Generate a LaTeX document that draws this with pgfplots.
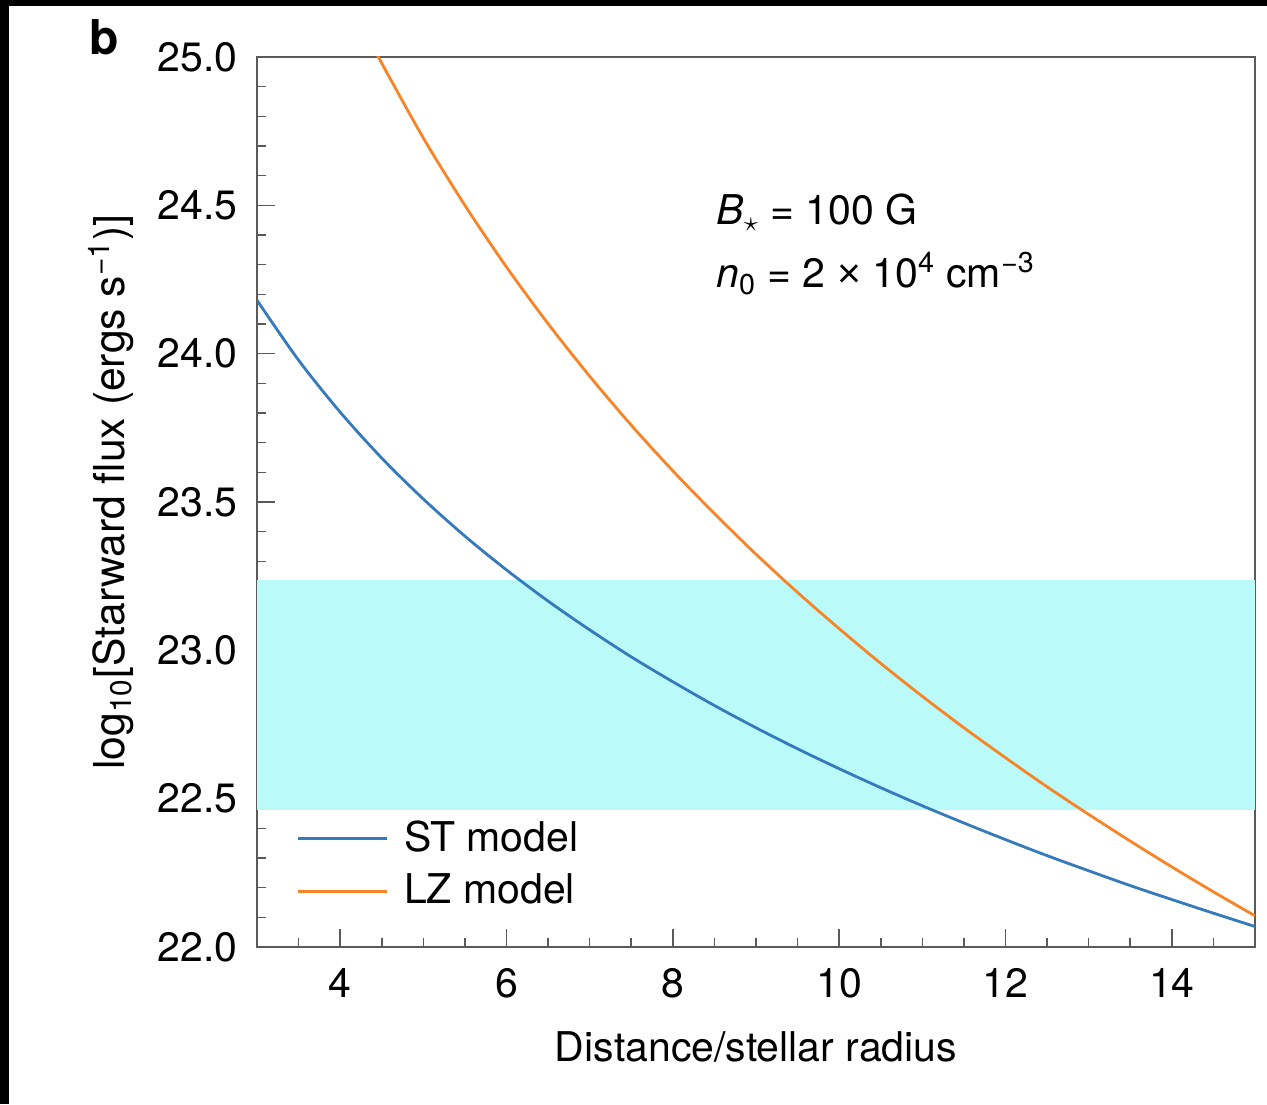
\documentclass[border=0pt]{standalone}
\usepackage{fontspec}
\setmainfont{TeX Gyre Heros}
\usepackage{pgfplots}
\pgfplotsset{compat=1.18}
\definecolor{stblue}{RGB}{53,122,189}
\definecolor{lzorange}{RGB}{247,133,40}
\definecolor{bandcyan}{RGB}{186,250,248}
\definecolor{axgray}{RGB}{90,90,90}
\begin{document}
\fontsize{20.5}{24}\selectfont
\begin{tikzpicture}
\useasboundingbox (0,0) rectangle (633.5pt,552pt);
\fill[black] (0,0) rectangle (633.5pt,552pt);
\fill[white] (4.5pt,0) rectangle (633.5pt,549pt);
\node[anchor=base west, inner sep=0pt, font=\fontsize{24}{28}\selectfont\bfseries] at (44.5pt,524.5pt) {b};
\begin{axis}[
  at={(128.5pt,78.5pt)}, anchor=south west,
  scale only axis, width=499pt, height=445pt,
  xmin=3, xmax=15, ymin=22, ymax=25,
  xtick={4,6,...,14}, minor xtick={3.5,4.5,5,5.5,6.5,7,7.5,8.5,9,9.5,10.5,11,11.5,12.5,13,13.5,14.5},
  ytick={22,22.5,...,25}, minor ytick={22.1,22.2,22.3,22.4,22.6,22.7,22.8,22.9,23.1,23.2,23.3,23.4,23.6,23.7,23.8,23.9,24.1,24.2,24.3,24.4,24.6,24.7,24.8,24.9},
  /pgf/number format/assume math mode=true,
  tick align=inside,
  xtick pos=bottom, ytick pos=left,
  major tick length=9pt, minor tick length=4.5pt,
  every tick/.style={axgray, line width=0.8pt},
  axis line style={axgray, line width=0.9pt},
  xticklabel style={anchor=north, inner sep=0pt, yshift=-10.5pt},
  yticklabel style={anchor=east, inner sep=0pt, xshift=-9.5pt, /pgf/number format/fixed, /pgf/number format/fixed zerofill, /pgf/number format/precision=1},
  xlabel={Distance/stellar radius},
  xlabel style={at={(axis description cs:0.5,-0.129)}, anchor=base, inner sep=0pt},
  ylabel={log\textsubscript{10}[Starward flux (ergs s\textsuperscript{−1})]},
  ylabel style={at={(axis description cs:-0.1465,0.511)}, anchor=center, inner sep=0pt, font=\fontsize{21.3}{25}\selectfont},
  legend image code/.code={\draw[#1] (0pt,0pt) -- (44.5pt,0pt);},
  legend style={draw=none, fill=none, at={(axis description cs:0.039,0.1427)}, anchor=north west, inner sep=0pt, column sep=8pt, row sep=8pt, nodes={inner sep=0pt}},
  legend cell align=left,
]
\addplot[fill=bandcyan, draw=none, forget plot] coordinates {(3,22.462) (15,22.462) (15,23.237) (3,23.237)} -- cycle;
\addplot[stblue, line width=1.4pt, smooth] coordinates {
(3,24.180) (3.5,23.978) (4,23.803) (4.5,23.648) (5,23.510) (5.5,23.385) (6,23.271) (6.5,23.166) (7,23.069) (7.5,22.978) (8,22.894) (8.5,22.814) (9,22.739) (9.5,22.668) (10,22.601) (10.5,22.537) (11,22.476) (11.5,22.418) (12,22.362) (12.5,22.308) (13,22.257) (13.5,22.207) (14,22.160) (14.5,22.114) (15,22.069)};
\addlegendentry{ST model}
\addplot[lzorange, line width=1.4pt, smooth] coordinates {
(4.4,25.032) (4.5,24.979) (5,24.727) (5.5,24.500) (6,24.292) (6.5,24.101) (7,23.924) (7.5,23.759) (8,23.605) (8.5,23.461) (9,23.324) (9.5,23.195) (10,23.073) (10.5,22.956) (11,22.845) (11.5,22.739) (12,22.638) (12.5,22.540) (13,22.447) (13.5,22.357) (14,22.270) (14.5,22.186) (15,22.105)};
\addlegendentry{LZ model}
\end{axis}
\node[anchor=base west, inner sep=0pt] at (358pt,439.5pt) {\textit{B}\textsubscript{$\star$} = 100 G};
\node[anchor=base west, inner sep=0pt] at (358pt,408pt) {\textit{n}\textsubscript{0} = 2 {\fontspec{Liberation Sans}×} 10\textsuperscript{4} cm\textsuperscript{−3}};
\end{tikzpicture}
\end{document}
